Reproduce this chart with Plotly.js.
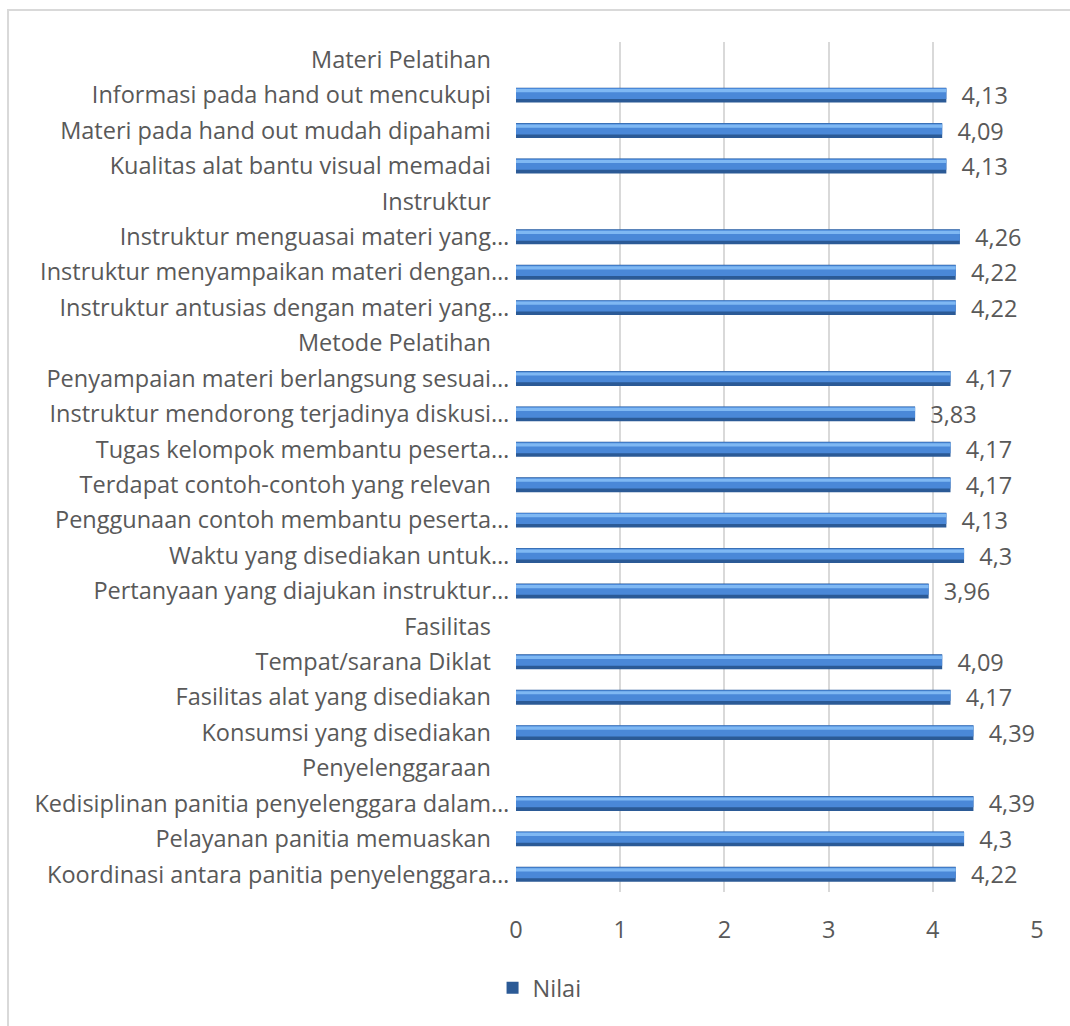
<!DOCTYPE html>
<html>
<head>
<meta charset="utf-8">
<script src="https://cdn.plot.ly/plotly-3.0.1.min.js"></script>
<style>
html,body{margin:0;padding:0;background:#fff;}
#chart{width:1070px;height:1026px;}
</style>
</head>
<body>
<div id="chart"></div>
<script>
// Categories (group headers have no value)
const categories = [
  "Materi Pelatihan",
  "Informasi pada hand out mencukupi",
  "Materi pada hand out mudah dipahami",
  "Kualitas alat bantu visual memadai",
  "Instruktur",
  "Instruktur menguasai materi yang…",
  "Instruktur menyampaikan materi dengan…",
  "Instruktur antusias dengan materi yang…",
  "Metode Pelatihan",
  "Penyampaian materi berlangsung sesuai…",
  "Instruktur mendorong terjadinya diskusi…",
  "Tugas kelompok membantu peserta…",
  "Terdapat contoh-contoh yang relevan",
  "Penggunaan contoh membantu peserta…",
  "Waktu yang disediakan untuk…",
  "Pertanyaan yang diajukan instruktur…",
  "Fasilitas",
  "Tempat/sarana Diklat",
  "Fasilitas alat yang disediakan",
  "Konsumsi yang disediakan",
  "Penyelenggaraan",
  "Kedisiplinan panitia penyelenggara dalam…",
  "Pelayanan panitia memuaskan",
  "Koordinasi antara panitia penyelenggara…"
];
const nilai = [
  null, 4.13, 4.09, 4.13,
  null, 4.26, 4.22, 4.22,
  null, 4.17, 3.83, 4.17, 4.17, 4.13, 4.3, 3.96,
  null, 4.09, 4.17, 4.39,
  null, 4.39, 4.3, 4.22
];
const seriesName = "Nilai";
const xTicks = [0, 1, 2, 3, 4, 5];

const labels = nilai.map(v => v == null ? "" : "  " + String(v).replace(".", ","));
const fontFam = "'Open Sans', 'Noto Sans', sans-serif";
const grey = "#595959";
const fs = 23.5;
// untruncated labels sit a little further from the axis, as in the original
const tickText = categories.map(c => c.endsWith("…") ? c : c + "\u00a0\u00a0\u00a0");

const traces = [
  {
    type: "bar", orientation: "h", name: seriesName,
    y: categories, x: nilai,
    width: 0.42, offset: -0.21,
    marker: {color: "#2b5a96", line: {width: 0}},
    text: labels, textposition: "outside", cliponaxis: false,
    constraintext: "none",
    textfont: {family: fontFam, size: fs, color: grey},
    hoverinfo: "skip", showlegend: true
  },
  {
    type: "bar", orientation: "h", name: seriesName + " mid",
    y: categories, x: nilai,
    width: 0.31, offset: -0.20,
    marker: {color: "#4a88d8", line: {width: 0}},
    hoverinfo: "skip", showlegend: false
  },
  {
    type: "bar", orientation: "h", name: seriesName + " hl",
    y: categories, x: nilai,
    width: 0.09, offset: -0.17,
    marker: {color: "#7fb8f3", line: {width: 0}},
    hoverinfo: "skip", showlegend: false
  }
];

const layout = {
  width: 1070, height: 1026,
  margin: {l: 516, r: 33, t: 42, b: 134, pad: 0},
  paper_bgcolor: "#ffffff", plot_bgcolor: "#ffffff",
  barmode: "overlay",
  font: {family: fontFam, size: fs, color: grey},
  xaxis: {
    range: [0, 5], tickvals: xTicks, ticktext: xTicks.map(String),
    showgrid: true, gridcolor: "#d9d9d9", gridwidth: 2,
    zeroline: false, showline: false,
    ticks: "outside", ticklen: 17, tickcolor: "rgba(0,0,0,0)",
    tickfont: {family: fontFam, size: fs, color: grey},
    fixedrange: true
  },
  yaxis: {
    type: "category", autorange: "reversed",
    tickvals: categories, ticktext: tickText,
    showgrid: false, zeroline: false, showline: false,
    ticks: "outside", ticklen: 1, tickcolor: "rgba(0,0,0,0)",
    tickfont: {family: fontFam, size: fs, color: grey},
    fixedrange: true
  },
  showlegend: true,
  legend: {
    orientation: "h", x: -0.045, xanchor: "left", y: -0.113, yanchor: "middle",
    font: {family: fontFam, size: fs, color: grey},
    itemwidth: 30, bgcolor: "rgba(0,0,0,0)"
  },
  shapes: [{
    type: "rect", xref: "paper", yref: "paper",
    x0: -0.975, x1: 1.1, y0: -0.2, y1: 1.0376,
    line: {color: "#d9d9d9", width: 2}, fillcolor: "rgba(0,0,0,0)", layer: "below"
  }]
};

Plotly.newPlot("chart", traces, layout, {displayModeBar: false, staticPlot: true});
</script>
</body>
</html>
